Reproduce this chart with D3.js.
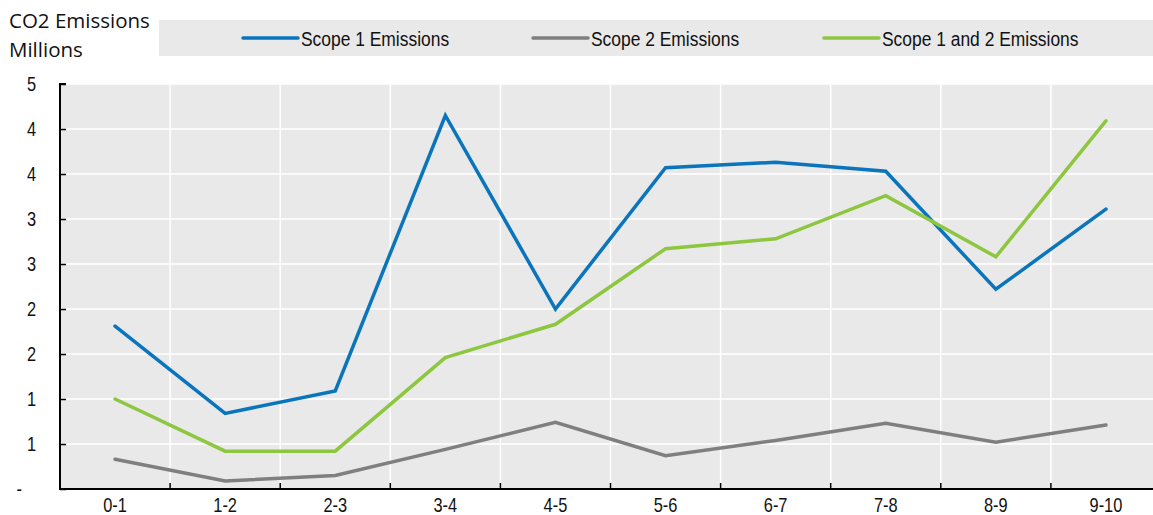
<!DOCTYPE html>
<html>
<head>
<meta charset="utf-8">
<script src="https://cdn.jsdelivr.net/npm/d3@7"></script>
<style>
  html, body { margin: 0; padding: 0; background: #fff; }
  svg { display: block; }
  .narrow { font-family: "Liberation Sans", Arial, sans-serif; fill: #111; }
  .title { font-family: "Open Sans", "Noto Sans", sans-serif; font-size: 20.5px; fill: #111; }
</style>
</head>
<body>
<svg id="chart" width="1153" height="515"></svg>
<script>
// Age bands of the fleet (years)
const categories = ["0-1", "1-2", "2-3", "3-4", "4-5", "5-6", "6-7", "7-8", "8-9", "9-10"];

// Emissions per band, millions
const scope1 = [1.81, 0.84, 1.09, 4.15, 2.00, 3.57, 3.63, 3.53, 2.22, 3.11];
const scope2 = [0.33, 0.09, 0.15, 0.44, 0.74, 0.37, 0.54, 0.73, 0.52, 0.71];
const scope12 = [1.00, 0.42, 0.42, 1.46, 1.83, 2.67, 2.78, 3.26, 2.58, 4.09];

const seriesNames = ["Scope 1 Emissions", "Scope 2 Emissions", "Scope 1 and 2 Emissions"];
const seriesColors = ["#0a75bc", "#7f7f7f", "#8dc63f"];

const yTicks = [0, 0.5, 1, 1.5, 2, 2.5, 3, 3.5, 4, 4.5];
const yTitle = ["CO2 Emissions", "Millions"];

const series = [scope1, scope2, scope12].map((values, i) => ({
  name: seriesNames[i], color: seriesColors[i], values
}));

const svg = d3.select("#chart");
const plot = { left: 60, right: 1161, top: 84, bottom: 489 };
const squeeze = 0.82; // condensed lettering for axis and legend text

const x = d3.scaleBand().domain(categories).range([plot.left, plot.right]).padding(0);
const y = d3.scaleLinear().domain([0, 4.5]).range([plot.bottom, plot.top]);
const cx = c => x(c) + x.bandwidth() / 2;

// Plot background
svg.append("rect")
  .attr("x", plot.left).attr("y", plot.top)
  .attr("width", plot.right - plot.left).attr("height", plot.bottom - plot.top)
  .attr("fill", "#e9e9e9");

// Gridlines
svg.append("g").selectAll("line").data(yTicks.filter(d => d > 0)).join("line")
  .attr("x1", plot.left).attr("x2", plot.right)
  .attr("y1", d => y(d)).attr("y2", d => y(d))
  .attr("stroke", "#fff").attr("stroke-width", 1.5);

svg.append("g").selectAll("line").data(categories.slice(1)).join("line")
  .attr("x1", d => x(d)).attr("x2", d => x(d))
  .attr("y1", plot.top).attr("y2", plot.bottom)
  .attr("stroke", "#fff").attr("stroke-width", 1.5);

// Series lines
const line = d3.line().x((d, i) => cx(categories[i])).y(d => y(d));
svg.append("g").selectAll("path").data(series).join("path")
  .attr("d", s => line(s.values))
  .attr("fill", "none")
  .attr("stroke", s => s.color)
  .attr("stroke-width", 3.5)
  .attr("stroke-linejoin", "miter")
  .attr("stroke-linecap", "round");

// Y axis (ticks point into the plot)
const yAxis = d3.axisRight(y).tickValues(yTicks).tickSize(6).tickFormat("");
const gy = svg.append("g").attr("transform", `translate(${plot.left},0)`).call(yAxis);
gy.select(".domain").attr("stroke", "#000").attr("stroke-width", 2)
  .attr("d", `M6,${plot.top}H0V${plot.bottom}`);
gy.selectAll(".tick line").attr("stroke", "#000").attr("stroke-width", 1.5);

// Y tick labels: whole numbers, zero shown as a dash
svg.append("g").selectAll("text").data(yTicks).join("text")
  .attr("class", "narrow")
  .attr("transform", d => `translate(${d === 0 ? 22 : 36},${y(d) + 7}) scale(${squeeze},1)`)
  .attr("text-anchor", "end")
  .attr("font-size", 20)
  .text(d => d === 0 ? "-" : String(Math.round(d)));

// X axis with ticks at band boundaries, pointing up
const xAxis = d3.axisTop(x).tickSize(0).tickFormat("");
const gx = svg.append("g").attr("transform", `translate(0,${plot.bottom})`).call(xAxis);
gx.select(".domain").attr("stroke", "#000").attr("stroke-width", 2)
  .attr("d", `M${plot.left - 1},0H${plot.right}`);
gx.selectAll(".tick").remove();
gx.selectAll("line.bound").data(categories.slice(1)).join("line")
  .attr("class", "bound")
  .attr("x1", d => x(d)).attr("x2", d => x(d))
  .attr("y1", 0).attr("y2", -6)
  .attr("stroke", "#000").attr("stroke-width", 1.5);

svg.append("g").selectAll("text").data(categories).join("text")
  .attr("class", "narrow")
  .attr("transform", d => `translate(${cx(d)},511.5) scale(${squeeze},1)`)
  .attr("text-anchor", "middle")
  .attr("font-size", 20)
  .text(d => d);

// Axis title
svg.append("g").selectAll("text").data(yTitle).join("text")
  .attr("class", "title")
  .attr("x", 9)
  .attr("y", (d, i) => 28 + i * 29)
  .text(d => d);

// Legend
svg.append("rect")
  .attr("x", 159).attr("y", 20).attr("width", 1000).attr("height", 36)
  .attr("fill", "#e9e9e9");

const legendX = [243, 533, 824];
const lg = svg.append("g").selectAll("g").data(series).join("g")
  .attr("transform", (d, i) => `translate(${legendX[i]},38)`);
lg.append("line")
  .attr("x1", 0).attr("x2", 55).attr("y1", 0).attr("y2", 0)
  .attr("stroke", d => d.color).attr("stroke-width", 3.5).attr("stroke-linecap", "round");
lg.append("text")
  .attr("class", "narrow")
  .attr("transform", `translate(58,7.5) scale(${squeeze + 0.01},1)`)
  .attr("font-size", 21)
  .text(d => d.name);
</script>
</body>
</html>
